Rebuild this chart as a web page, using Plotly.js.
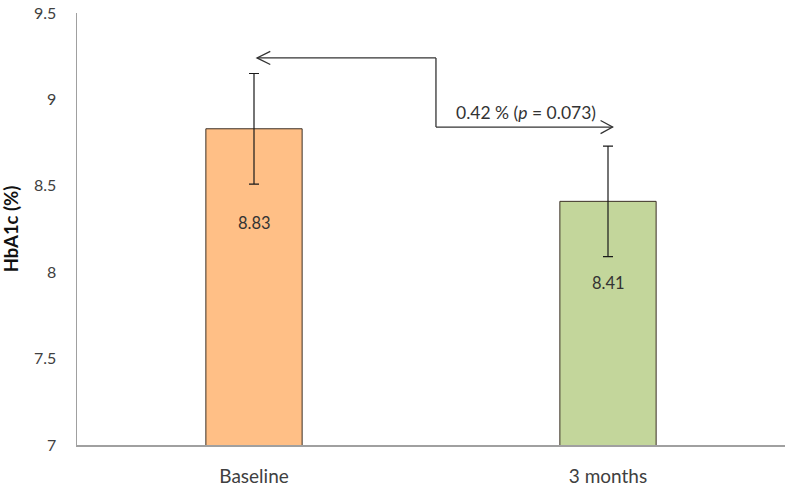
<!DOCTYPE html>
<html>
<head>
<meta charset="utf-8">
<script src="https://cdn.plot.ly/plotly-3.0.1.min.js"></script>
<style>html,body{margin:0;padding:0;background:#fff;}#chart{width:788px;height:488px;}</style>
</head>
<body>
<div id="chart"></div>
<script>
// Data
var categories = ["Baseline", "3 months"];
var hba1c = [8.83, 8.41];
var errorSD = [0.32, 0.32];
var valueLabels = ["8.83", "8.41"];
var labelY = [8.285, 7.94];
var barColors = ["#FFBF86", "#C3D69B"];
var diffText = "0.42 % (<i>p</i> = 0.073)";

var font = "Lato, 'Open Sans', sans-serif";

var trace = {
  type: "bar",
  x: categories,
  y: hba1c,
  width: 0.272,
  marker: {color: barColors, line: {color: "#3b2f25", width: 1}},
  error_y: {type: "data", array: errorSD, visible: true, color: "#1a1a1a", thickness: 1.2, width: 5},
  hoverinfo: "none"
};

var annotations = categories.map(function(c, i){
  return {x: c, y: labelY[i], xref: "x", yref: "y", text: valueLabels[i], showarrow: false,
    font: {family: font, size: 16.5, color: "#333"}};
});
annotations.push({x: 0.768, y: 8.84, xref: "x", yref: "y", yanchor: "bottom", text: diffText,
  showarrow: false, font: {family: font, size: 17.5, color: "#333"}, yshift: 2});

var lc = {color: "#333", width: 1.3};
var shapes = [
  {type: "line", xref: "x", yref: "y", x0: 0.0085, x1: 0.514, y0: 9.24, y1: 9.24, line: lc},
  {type: "line", xref: "x", yref: "y", x0: 0.514, x1: 0.514, y0: 9.24, y1: 8.84, line: lc},
  {type: "line", xref: "x", yref: "y", x0: 0.514, x1: 1.013, y0: 8.84, y1: 8.84, line: lc},
  {type: "path", xref: "x", yref: "y", path: "M 0.046 9.278 L 0.0085 9.24 L 0.046 9.202", line: lc},
  {type: "path", xref: "x", yref: "y", path: "M 0.979 8.878 L 1.013 8.84 L 0.979 8.802", line: lc}
];

var layout = {
  width: 788, height: 488,
  margin: {l: 77, r: 3, t: 13, b: 43},
  paper_bgcolor: "#fff", plot_bgcolor: "#fff",
  showlegend: false,
  font: {family: font, size: 15, color: "#404040"},
  xaxis: {
    type: "category", range: [-0.5, 1.5],
    showline: true, linecolor: "#a0a0a0", linewidth: 1.5,
    ticks: "", ticklabelstandoff: 14,
    tickfont: {family: font, size: 19, color: "#404040"},
    showgrid: false, zeroline: false, fixedrange: true
  },
  yaxis: {
    range: [7, 9.5], dtick: 0.5, tick0: 7,
    showline: true, linecolor: "#a0a0a0", linewidth: 1.5,
    ticks: "", ticklabelstandoff: 16,
    tickfont: {family: font, size: 16, color: "#404040"},
    showgrid: false, zeroline: false, fixedrange: true,
    title: {text: "<b>HbA1c (%)</b>", standoff: 12, font: {family: font, size: 18.5, color: "#111"}}
  },
  annotations: annotations,
  shapes: shapes
};

Plotly.newPlot("chart", [trace], layout, {displayModeBar: false, staticPlot: true});
</script>
</body>
</html>
